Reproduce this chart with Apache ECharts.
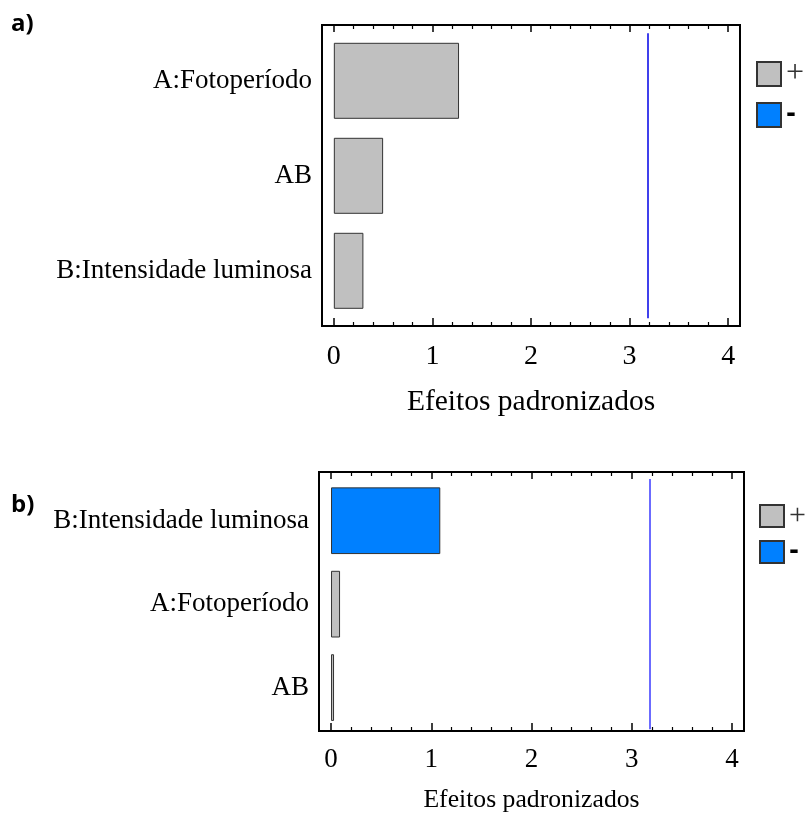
<!DOCTYPE html>
<html>
<head>
<meta charset="utf-8">
<script src="https://cdn.jsdelivr.net/npm/echarts@6/dist/echarts.min.js"></script>
<style>
  html, body { margin: 0; padding: 0; background: #fff; }
  #chart { width: 805px; height: 814px; }
</style>
</head>
<body>
<div id="chart"></div>
<script>
// Pareto charts of standardized effects (two responses)
const categoriesA = ['A:Fotoperíodo', 'AB', 'B:Intensidade luminosa'];
const effectsA = [1.27, 0.50, 0.30];            // signed standardized effects
const categoriesB = ['B:Intensidade luminosa', 'A:Fotoperíodo', 'AB'];
const effectsB = [-1.09, 0.09, 0.03];
const criticalValue = 3.182;                   // significance reference line
const majorTicks = [0, 1, 2, 3, 4];
const minorTicks = [0.2, 0.4, 0.6, 0.8, 1.2, 1.4, 1.6, 1.8, 2.2, 2.4, 2.6, 2.8, 3.2, 3.4, 3.6, 3.8];
const xMin = -0.12, xMax = 4.12;

const SERIF = '"Liberation Serif", "Times New Roman", serif';
const POS_COLOR = '#c0c0c0';
const NEG_COLOR = '#0080ff';

const panels = [
  { cats: categoriesA, eff: effectsA,
    frame: { left: 322, top: 25, width: 418, height: 301 },
    inner: { left: 322, top: 33.3, width: 418, height: 285 },
    barWidth: 76, labelSize: 27, tickSize: 28, nameSize: 29.5, nameGap: 61, labelMargin: 17,
    lineColor: '#0000e6', legendLeft: 756, legendTop: 58, legendIcon: [24, 24], legendGap: 12, legendFont: 32 },
  { cats: categoriesB, eff: effectsB,
    frame: { left: 319, top: 472, width: 425, height: 265 },
    inner: { left: 319, top: 479, width: 425, height: 250.3 },
    barWidth: 66.7, labelSize: 27, tickSize: 27, nameSize: 25.7, nameGap: 56, labelMargin: 15,
    lineColor: '#3a3aff', legendLeft: 759, legendTop: 501, legendIcon: [24, 22], legendGap: 9, legendFont: 30 }
];

const grid = [], xAxis = [], yAxis = [], series = [], legend = [];

panels.forEach((p, i) => {
  const gFrame = grid.length;
  grid.push(Object.assign({ show: true, borderColor: '#000', borderWidth: 2, backgroundColor: 'transparent' }, p.frame));
  const gInner = grid.length;
  grid.push(Object.assign({}, p.inner));

  const common = { type: 'value', min: xMin, max: xMax, gridIndex: gFrame, splitLine: { show: false }, axisLine: { show: false } };
  // bottom: major ticks + labels + axis title
  xAxis.push(Object.assign({}, common, {
    position: 'bottom',
    axisTick: { show: true, inside: true, length: 8, customValues: majorTicks, lineStyle: { color: '#000', width: 1.5 } },
    axisLabel: { show: true, customValues: majorTicks, fontFamily: SERIF, fontSize: p.tickSize, color: '#000', margin: p.labelMargin },
    name: 'Efeitos padronizados', nameLocation: 'middle', nameGap: p.nameGap,
    nameTextStyle: { fontFamily: SERIF, fontSize: p.nameSize, color: '#000' }
  }));
  // bottom: minor ticks
  xAxis.push(Object.assign({}, common, {
    position: 'bottom',
    axisTick: { show: true, inside: true, length: 4, customValues: minorTicks, lineStyle: { color: '#000', width: 1.2 } },
    axisLabel: { show: false }
  }));
  // top: major ticks
  xAxis.push(Object.assign({}, common, {
    position: 'top',
    axisTick: { show: true, inside: true, length: 7, customValues: majorTicks, lineStyle: { color: '#000', width: 1.5 } },
    axisLabel: { show: false }
  }));
  // top: minor ticks
  xAxis.push(Object.assign({}, common, {
    position: 'top',
    axisTick: { show: true, inside: true, length: 4, customValues: minorTicks, lineStyle: { color: '#000', width: 1.2 } },
    axisLabel: { show: false }
  }));
  const xInner = xAxis.length;
  xAxis.push({ type: 'value', min: xMin, max: xMax, gridIndex: gInner, show: false });

  yAxis.push({ type: 'value', gridIndex: gFrame, show: false });
  const yInner = yAxis.length;
  yAxis.push({
    type: 'category', gridIndex: gInner, data: p.cats, inverse: true,
    axisLine: { show: false }, axisTick: { show: false },
    axisLabel: { fontFamily: SERIF, fontSize: p.labelSize, color: '#000', margin: 10 }
  });

  const border = { borderColor: '#333', borderWidth: 1 };
  series.push({
    name: '+', type: 'bar', xAxisIndex: xInner, yAxisIndex: yInner, stack: 'eff' + i,
    barWidth: p.barWidth, itemStyle: Object.assign({ color: POS_COLOR }, border),
    data: p.eff.map(v => (v >= 0 ? Math.abs(v) : '-')),
    markLine: {
      silent: true, symbol: 'none', label: { show: false },
      lineStyle: { color: p.lineColor, width: 1.5, type: 'solid' },
      data: [{ xAxis: criticalValue }]
    }
  });
  series.push({
    name: '-', type: 'bar', xAxisIndex: xInner, yAxisIndex: yInner, stack: 'eff' + i,
    barWidth: p.barWidth, itemStyle: Object.assign({ color: NEG_COLOR }, border),
    data: p.eff.map(v => (v < 0 ? Math.abs(v) : '-'))
  });

  legend.push({
    data: ['+', '-'], orient: 'vertical', left: p.legendLeft, top: p.legendTop,
    padding: 0, icon: 'rect', itemWidth: p.legendIcon[0], itemHeight: p.legendIcon[1], itemGap: p.legendGap,
    selectedMode: false,
    formatter: n => (n === '-' ? '{m|-}' : '{p|+}'),
    textStyle: {
      fontFamily: SERIF, fontSize: p.legendFont,
      rich: {
        p: { fontFamily: SERIF, fontSize: p.legendFont, color: '#333' },
        m: { fontFamily: '"DejaVu Sans", sans-serif', fontWeight: 'bold', fontSize: 24, color: '#000' }
      }
    }
  });
});

const titleStyle = { fontFamily: '"Open Sans", sans-serif', fontWeight: 'bold', fontSize: 24, color: '#000' };
const option = {
  animation: false,
  backgroundColor: '#fff',
  title: [
    { text: 'a)', left: 11, top: 12, padding: 0, textStyle: titleStyle },
    { text: 'b)', left: 11, top: 493, padding: 0, textStyle: titleStyle }
  ],
  grid, xAxis, yAxis, series, legend
};

const chart = echarts.init(document.getElementById('chart'), null, { renderer: 'canvas' });
chart.setOption(option);
</script>
</body>
</html>
